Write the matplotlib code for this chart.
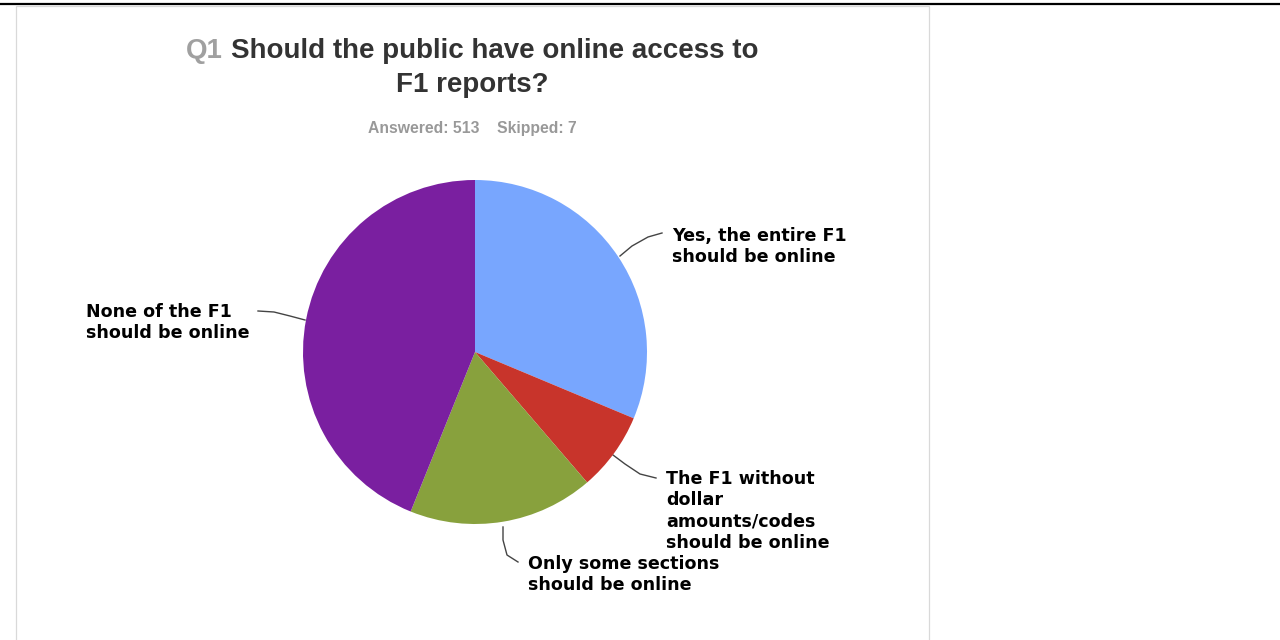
import matplotlib
matplotlib.use("Agg")
import matplotlib.pyplot as plt
from matplotlib.patches import Rectangle
from matplotlib.lines import Line2D

# ---- data ----
categories = ["Yes, the entire F1\nshould be online",
              "The F1 without\ndollar\namounts/codes\nshould be online",
              "Only some sections\nshould be online",
              "None of the F1\nshould be online"]
shares = [31.3, 7.4, 17.4, 43.9]
colors = ["#78a6fe", "#c8342b", "#88a13d", "#7a1fa0"]
title_q = "Q1"
title_line1 = "Should the public have online access to"
title_line2 = "F1 reports?"
subtitle = "Answered: 513    Skipped: 7"

W, H = 1280, 640
fig = plt.figure(figsize=(12.8, 6.4), dpi=100)
fig.patch.set_facecolor("white")

def fx(x): return x / W
def fy(y): return 1 - y / H

# top black rule and panel
fig.add_artist(Line2D([0, 1], [fy(3.5), fy(3.5)], color="black", lw=1.6, zorder=-2))
fig.add_artist(Rectangle((fx(15.5), fy(660)), fx(929 - 15.5), fy(5.5) - fy(660),
                         facecolor="white", edgecolor="#d9d9d9", lw=0.9, zorder=-1))

# pie
cx, cy, r = 475, 352, 172
ax = fig.add_axes([fx(cx - r), fy(cy + r), fx(2 * r), 2 * r / H], zorder=2)
ax.patch.set_alpha(0)
wedges, _ = ax.pie(shares, colors=colors, startangle=90, counterclock=False,
                   radius=1, wedgeprops=dict(linewidth=0))
ax.set_xlim(-1, 1); ax.set_ylim(-1, 1)
ax.set_aspect("equal"); ax.axis("off")

# labels with leader lines (pixel coords)
lab_font = dict(family="DejaVu Sans", fontweight="bold", fontsize=12.6, color="#000000",
                linespacing=1.23)
label_specs = [
    ((672, 227), [(620, 256), (632, 246), (648, 237), (662, 233)]),
    ((666, 470), [(613, 455), (625, 464), (640, 474), (656, 478)]),
    ((528, 555), [(503, 527), (503, 540), (507, 555), (518, 562)]),
    ((86, 303), [(305, 320), (290, 316), (274, 312), (258, 311)]),
]
for cat, ((tx, ty), pts) in zip(categories, label_specs):
    fig.text(fx(tx), fy(ty), cat, ha="left", va="top", **lab_font)
    xs = [fx(p[0]) for p in pts]; ys = [fy(p[1]) for p in pts]
    fig.add_artist(Line2D(xs, ys, color="#444444", lw=1.0))

# title
tfont = dict(family="Liberation Sans", fontweight="bold", fontsize=20)
fig.canvas.draw()
rend = fig.canvas.get_renderer()
full = fig.text(0, 0, title_q + " " + title_line1, **tfont)
qsp = fig.text(0, 0, title_q + " ", **tfont)
wfull = full.get_window_extent(rend).width
wq = qsp.get_window_extent(rend).width
full.remove(); qsp.remove()
tcx = 472
x0 = tcx - wfull / 2
fig.text(fx(x0), fy(51), title_q, ha="left", va="center", color="#a0a0a0", **tfont)
fig.text(fx(x0 + wq), fy(51), title_line1, ha="left", va="center", color="#333333", **tfont)
fig.text(fx(tcx), fy(85), title_line2, ha="center", va="center", color="#333333", **tfont)
fig.text(fx(tcx), fy(128), subtitle, ha="center", va="center", color="#999999",
         family="Liberation Sans", fontweight="bold", fontsize=11.3)

fig.savefig("out.png", dpi=100)
